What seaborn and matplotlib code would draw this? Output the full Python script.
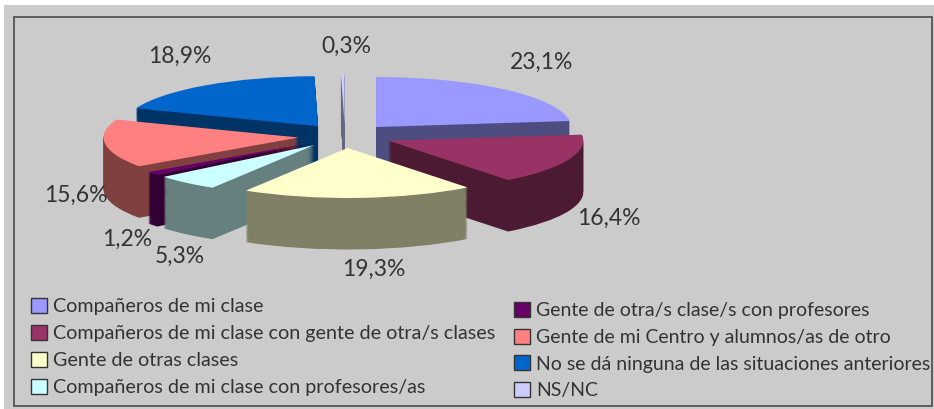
#!/usr/bin/env python3

import matplotlib

matplotlib.use("Agg")

import matplotlib.pyplot as plt
import numpy as np
import seaborn as sns
from matplotlib.patches import Patch, Rectangle

W, H = 934, 409

categories_left = [
    "Compañeros de mi clase",
    "Compañeros de mi clase con gente de otra/s clases",
    "Gente de otras clases",
    "Compañeros de mi clase con profesores/as",
]
categories_right = [
    "Gente de otra/s clase/s con profesores",
    "Gente de mi Centro y alumnos/as de otro",
    "No se dá ninguna de las situaciones anteriores",
    "NS/NC",
]
values = [23.1, 16.4, 19.3, 5.3, 1.2, 15.6, 18.9, 0.3]
top_colors = [
    "#9999FF", "#993366", "#FFFFCC", "#CCFFFF",
    "#660066", "#FF8080", "#0066CC", "#CCCCFF",
]

# painter's order, back slices first
draw_order = [7, 6, 0, 5, 4, 3, 1, 2]
label_pos = [
    (542, 62), (609, 218), (374, 269), (180, 256),
    (127, 239), (76, 195), (180, 56), (346, 46),
]

# pixels per pie radius, the flattening gives the tilted look
RX, RY = 195, 50
CX, CY = 345, 136
DEPTH = 1.03
N_LAYERS = 56
TEXT = "#333333"

sns.set_theme(style="white")
plt.rcParams["font.family"] = ["Lato", "DejaVu Sans"]


def fx(x):
    return x / W


def fy(y):
    return 1 - y / H


def add_legend(fig, labels, colors, x, y, size):
    handles = [Patch(facecolor=c, edgecolor="#333333", linewidth=1) for c in colors]
    fig.legend(
        handles,
        labels,
        loc="upper left",
        bbox_to_anchor=(fx(x), fy(y)),
        frameon=False,
        fontsize=size,
        labelcolor=TEXT,
        handlelength=11.5 / size,
        handleheight=11.5 / size,
        handletextpad=0.3,
        labelspacing=0.48,
        borderpad=0,
        borderaxespad=0,
    )


fig = plt.figure(figsize=(W / 100, H / 100), dpi=100, facecolor="white")
fig.add_artist(
    Rectangle(
        (fx(4), 0), fx(W - 4), fy(5), transform=fig.transFigure,
        facecolor="#CBCBCB", edgecolor="none", zorder=-2,
    )
)
fig.add_artist(
    Rectangle(
        (fx(14), fy(406)), fx(918), 389 / H, transform=fig.transFigure,
        facecolor="none", edgecolor="#4A4A4A", linewidth=1.2, zorder=-1,
    )
)

ax = fig.add_axes([0, 0, 1, 1])
palette = sns.color_palette(top_colors)
side_colors = [tuple(c * 0.5 for c in col) for col in palette]
explode = [0.24] * len(values)

for k, depth in enumerate(np.linspace(DEPTH, 0, N_LAYERS)):
    is_top = k == N_LAYERS - 1
    wedges, _ = ax.pie(
        values,
        explode=explode,
        colors=palette if is_top else side_colors,
        startangle=90,
        counterclock=False,
        center=(0, -depth),
        wedgeprops={"linewidth": 0},
    )
    for i, wedge in enumerate(wedges):
        wedge.set_zorder(2 + draw_order.index(i) + k / N_LAYERS)

ax.set_aspect("auto")
ax.set_xlim(-CX / RX, (W - CX) / RX)
ax.set_ylim(-(H - CY) / RY, CY / RY)
ax.set_axis_off()

for val, (px, py) in zip(values, label_pos):
    fig.text(
        fx(px), fy(py), f"{val:.1f}%".replace(".", ","),
        ha="center", va="center", fontsize=16.5, color=TEXT,
    )

add_legend(fig, categories_left, palette[:4], 31, 298, 14.2)
add_legend(fig, categories_right, palette[4:], 514, 302, 14.0)

fig.savefig("out.png", dpi=100)
